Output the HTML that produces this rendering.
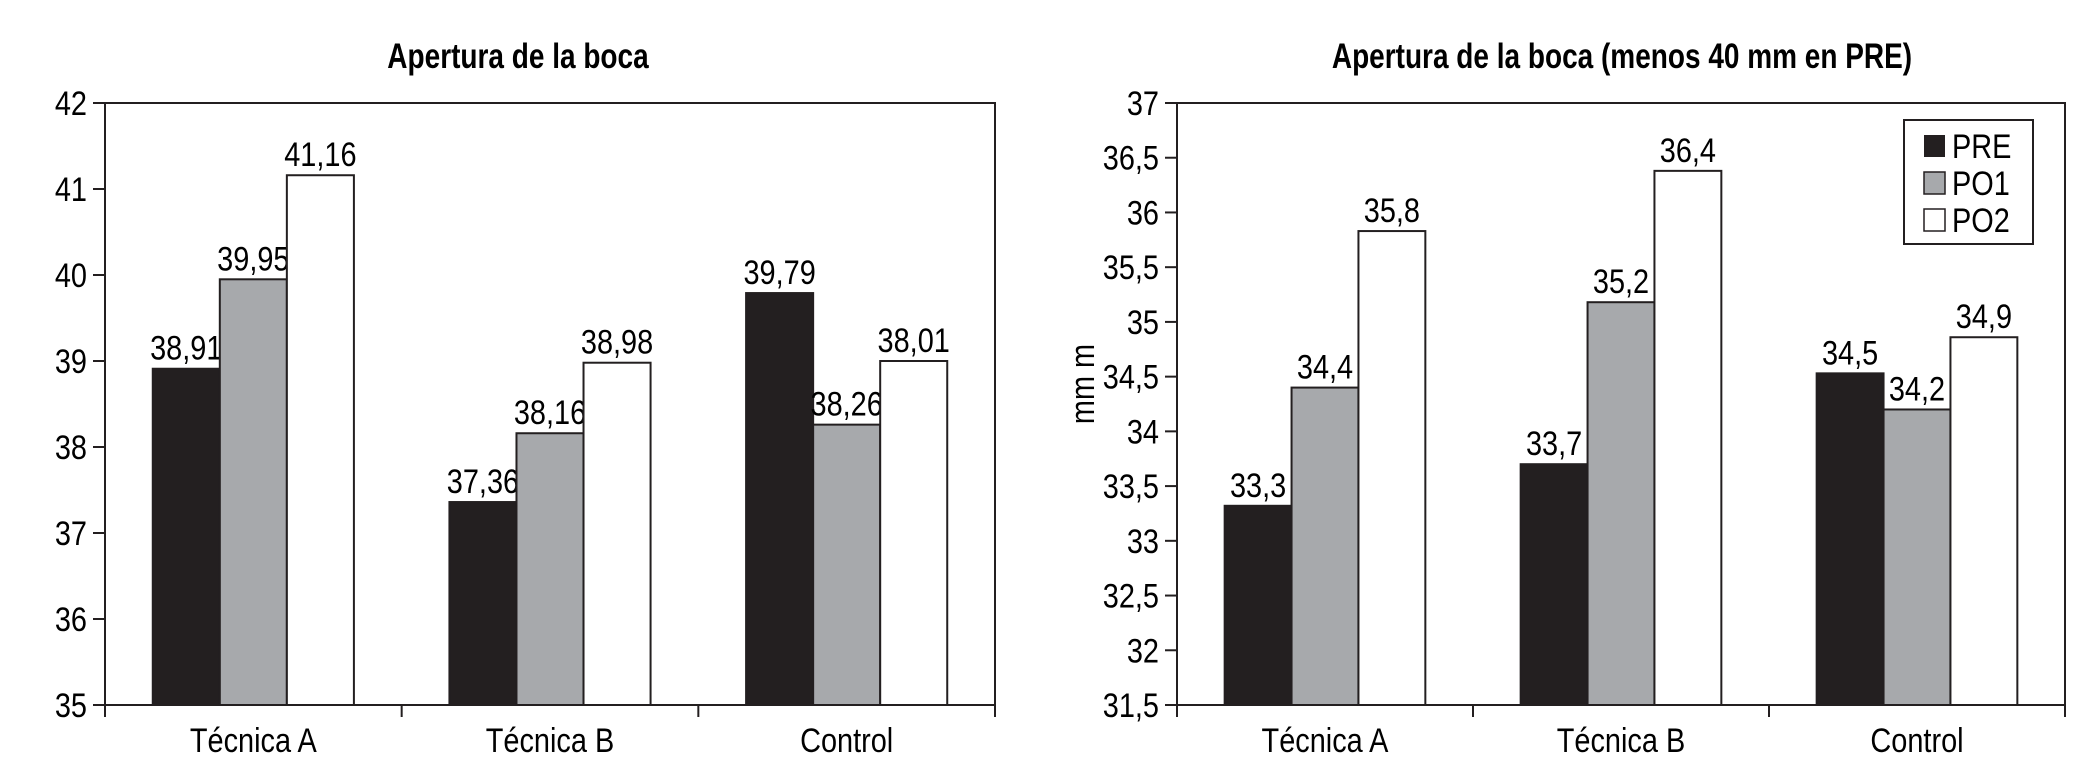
<!DOCTYPE html>
<html><head><meta charset="utf-8"><style>
html,body{margin:0;padding:0;background:#fff;}
svg{display:block;font-family:"Liberation Sans",sans-serif;}
</style></head><body>
<svg id="svg" width="2091" height="775" xmlns="http://www.w3.org/2000/svg">
<text x="518" y="68" font-size="35" font-weight="bold" text-anchor="middle" transform="translate(518 0) scale(0.8 1) translate(-518 0)">Apertura de la boca</text>
<text x="1622" y="68" font-size="35" font-weight="bold" text-anchor="middle" transform="translate(1622 0) scale(0.8 1) translate(-1622 0)">Apertura de la boca (menos 40 mm en PRE)</text>
<text x="0" y="0" font-size="34" text-anchor="middle" transform="translate(1094 384) rotate(-90) scale(0.85 1)">mm m</text>
<g id="left"></g>
<g id="right"></g>
<g id="legend">
<rect x="1904" y="120" width="129" height="124" fill="#fff" stroke="#231f20" stroke-width="2"/>
<rect x="1924" y="135" width="21" height="22" fill="#231f20"/>
<text x="1952" y="158" font-size="34" transform="translate(1952 0) scale(0.85 1) translate(-1952 0)">PRE</text>
<rect x="1924" y="172" width="21" height="22" fill="#a7a9ac" stroke="#231f20" stroke-width="1.5"/>
<text x="1952" y="195" font-size="34" transform="translate(1952 0) scale(0.85 1) translate(-1952 0)">PO1</text>
<rect x="1924" y="209" width="21" height="22" fill="#fff" stroke="#231f20" stroke-width="1.5"/>
<text x="1952" y="232" font-size="34" transform="translate(1952 0) scale(0.85 1) translate(-1952 0)">PO2</text>
</g>
</svg>
<script>
const categories = ["Técnica A", "Técnica B", "Control"];
const seriesNames = ["PRE", "PO1", "PO2"];
const leftPRE = [38.91, 37.36, 39.79];
const leftPO1 = [39.95, 38.16, 38.26];
const leftPO2 = [41.16, 38.98, 39.0];
const leftLabelsPRE = ["38,91", "37,36", "39,79"];
const leftLabelsPO1 = ["39,95", "38,16", "38,26"];
const leftLabelsPO2 = ["41,16", "38,98", "38,01"];
const leftTicks = [35, 36, 37, 38, 39, 40, 41, 42];
const leftTickLabels = ["35", "36", "37", "38", "39", "40", "41", "42"];
const rightPRE = [33.32, 33.7, 34.53];
const rightPO1 = [34.4, 35.18, 34.2];
const rightPO2 = [35.83, 36.38, 34.86];
const rightLabelsPRE = ["33,3", "33,7", "34,5"];
const rightLabelsPO1 = ["34,4", "35,2", "34,2"];
const rightLabelsPO2 = ["35,8", "36,4", "34,9"];
const rightTicks = [31.5, 32, 32.5, 33, 33.5, 34, 34.5, 35, 35.5, 36, 36.5, 37];
const rightTickLabels = ["31,5", "32", "32,5", "33", "33,5", "34", "34,5", "35", "35,5", "36", "36,5", "37"];

const NS = "http://www.w3.org/2000/svg";
function mk(parent, tag, attrs) {
  const e = document.createElementNS(NS, tag);
  for (const k in attrs) e.setAttribute(k, attrs[k]);
  parent.appendChild(e);
  return e;
}
function txt(parent, x, y, anchor, s) {
  const e = mk(parent, "text", {x: x, y: y, "font-size": 34, "text-anchor": anchor,
    transform: "translate(" + x + " 0) scale(0.85 1) translate(" + (-x) + " 0)"});
  e.textContent = s;
  return e;
}
const fills = ["#231f20", "#a7a9ac", "#ffffff"];
function drawChart(g, cfg) {
  const yScale = v => cfg.bottom - (v - cfg.min) / (cfg.max - cfg.min) * (cfg.bottom - cfg.top);
  const catW = (cfg.right - cfg.left) / categories.length;
  const barW = catW * 0.226;
  const frame = mk(g, "rect", {x: cfg.left, y: cfg.top, width: cfg.right - cfg.left, height: cfg.bottom - cfg.top, fill: "none", stroke: "#231f20", "stroke-width": 2});
  
  
  cfg.ticks.forEach((t, i) => {
    const y = yScale(t);
    const tl = mk(g, "line", {x1: cfg.left - 12, x2: cfg.left, y1: y, y2: y, stroke: "#231f20", "stroke-width": 2});
    
    
    const tx = txt(g, cfg.left - 18, y + 12, "end", cfg.tickLabels[i]);
    
    
  });
  for (let i = 0; i <= categories.length; i++) {
    const x = cfg.left + i * catW;
    const l = mk(g, "line", {x1: x, x2: x, y1: cfg.bottom, y2: cfg.bottom + 12, stroke: "#231f20", "stroke-width": 2});
    
    
  }
  categories.forEach((c, ci) => {
    const cx = cfg.left + (ci + 0.5) * catW;
    const ct = txt(g, cx, 752, "middle", c);
    
    
    cfg.series.forEach((s, si) => {
      const x = cx + (si - 1.5) * barW;
      const y = yScale(s[ci]);
      const b = mk(g, "rect", {x: x, y: y, width: barW, height: cfg.bottom - y, fill: fills[si], stroke: "#231f20", "stroke-width": 2});
      
      
      const lt = txt(g, x + barW / 2, y - 9, "middle", cfg.labels[si][ci]);
      
      
    });
  });
}
drawChart(document.getElementById("left"), {left: 105, right: 995, top: 103, bottom: 705, min: 35, max: 42,
  ticks: leftTicks, tickLabels: leftTickLabels, series: [leftPRE, leftPO1, leftPO2], labels: [leftLabelsPRE, leftLabelsPO1, leftLabelsPO2]});
drawChart(document.getElementById("right"), {left: 1177, right: 2065, top: 103, bottom: 705, min: 31.5, max: 37,
  ticks: rightTicks, tickLabels: rightTickLabels, series: [rightPRE, rightPO1, rightPO2], labels: [rightLabelsPRE, rightLabelsPO1, rightLabelsPO2]});
document.getElementById("svg").appendChild(document.getElementById("legend"));
</script>
</body></html>
